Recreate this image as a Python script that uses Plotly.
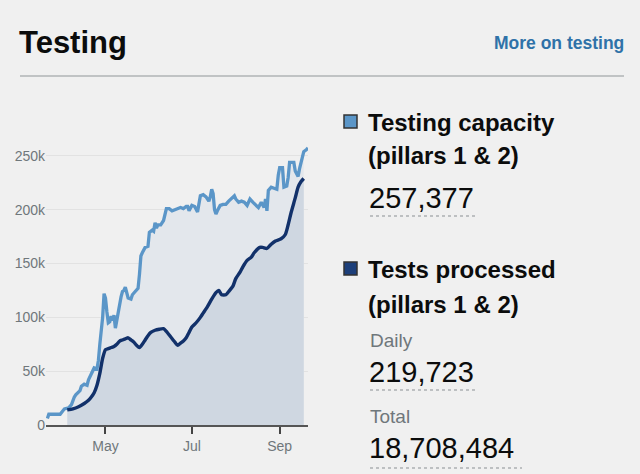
import plotly.graph_objects as go

# ---- data ----
cap_dates = ["2020-03-21","2020-03-22","2020-03-30","2020-03-31","2020-04-02","2020-04-05","2020-04-07",
             "2020-04-09","2020-04-10","2020-04-13","2020-04-14","2020-04-16","2020-04-18","2020-04-19",
             "2020-04-21","2020-04-23","2020-04-25","2020-04-26","2020-04-27","2020-04-28","2020-04-29",
             "2020-04-30","2020-05-01","2020-05-02","2020-05-03","2020-05-04","2020-05-05","2020-05-06",
             "2020-05-07","2020-05-08","2020-05-09","2020-05-10","2020-05-11","2020-05-12","2020-05-13",
             "2020-05-14","2020-05-15","2020-05-16","2020-05-17","2020-05-19","2020-05-20","2020-05-22",
             "2020-05-24","2020-05-25","2020-05-26","2020-05-27","2020-05-29","2020-05-31","2020-06-01",
             "2020-06-03","2020-06-04","2020-06-05","2020-06-06","2020-06-07","2020-06-09","2020-06-11",
             "2020-06-13","2020-06-15","2020-06-17","2020-06-19","2020-06-21","2020-06-23","2020-06-25",
             "2020-06-27","2020-06-28","2020-06-29","2020-07-01","2020-07-03","2020-07-05","2020-07-06",
             "2020-07-07","2020-07-09","2020-07-11","2020-07-13","2020-07-14","2020-07-15","2020-07-16",
             "2020-07-17","2020-07-18","2020-07-19","2020-07-21","2020-07-23","2020-07-25","2020-07-27",
             "2020-07-29","2020-07-31","2020-08-01","2020-08-03","2020-08-05","2020-08-07","2020-08-09",
             "2020-08-11","2020-08-13","2020-08-15","2020-08-17","2020-08-19","2020-08-21","2020-08-22",
             "2020-08-23","2020-08-24","2020-08-26","2020-08-28","2020-08-30","2020-08-31","2020-09-01",
             "2020-09-03","2020-09-04","2020-09-06","2020-09-07","2020-09-08","2020-09-11","2020-09-12",
             "2020-09-14","2020-09-15","2020-09-17","2020-09-18","2020-09-20","2020-09-21"]
cap_values = [6000,10000,10000,12000,15000,16000,19000,
              26000,28000,32000,36000,38000,37000,42000,
              48000,53000,52000,60000,75000,86000,100000,
              122000,118000,105000,95000,96000,101000,97000,
              102000,90000,98000,107000,112000,119000,124000,
              125000,128000,121000,118000,117000,121000,124000,
              127000,140000,157000,160000,165000,166000,179000,
              181000,180000,188000,183000,186000,186000,190000,
              201000,201000,199000,200000,201000,202000,201000,
              203000,203000,199000,204000,203000,198000,206000,
              213000,214000,212000,208000,212000,219000,215000,
              200000,196000,199000,204000,205000,205000,208000,
              211000,213000,210000,207000,208000,207000,204000,
              210000,207000,204000,202000,207000,202000,210000,
              199000,218000,221000,220000,219000,232000,239000,
              239000,221000,222000,230000,244000,244000,236000,
              231000,238000,250000,254000,256000,257377]

proc_dates = ["2020-04-04","2020-04-08","2020-04-12","2020-04-16","2020-04-19","2020-04-21","2020-04-23",
              "2020-04-25","2020-04-27","2020-04-29","2020-05-01","2020-05-03","2020-05-05","2020-05-07",
              "2020-05-09","2020-05-11","2020-05-13","2020-05-15","2020-05-17","2020-05-19","2020-05-21",
              "2020-05-23","2020-05-25","2020-05-27","2020-05-29","2020-05-31","2020-06-02","2020-06-05",
              "2020-06-08","2020-06-11","2020-06-13","2020-06-16","2020-06-19","2020-06-21","2020-06-23",
              "2020-06-25","2020-06-27","2020-06-29","2020-07-01","2020-07-04","2020-07-07","2020-07-09",
              "2020-07-12","2020-07-15","2020-07-18","2020-07-20","2020-07-22","2020-07-25","2020-07-27",
              "2020-07-30","2020-08-01","2020-08-04","2020-08-06","2020-08-09","2020-08-12","2020-08-14",
              "2020-08-18","2020-08-20","2020-08-23","2020-08-26","2020-08-29","2020-09-02","2020-09-05",
              "2020-09-07","2020-09-09","2020-09-12","2020-09-14","2020-09-16","2020-09-18"]
proc_values = [14000,15000,17000,20000,23000,26000,30000,
               37000,48000,62000,70000,71000,72000,73000,
               75000,78000,79000,80000,81000,79000,77000,
               74000,72000,75000,79000,83000,86000,88000,
               89000,89500,87000,82000,77000,74000,76000,
               78000,81000,86000,91000,95000,100000,104000,
               110000,117000,123000,125000,121000,121000,124000,
               129000,136000,142000,147000,153000,156000,160000,
               165000,165000,164000,168000,171000,173000,177000,
               186000,197000,211000,221000,226000,229000]

y_tickvals = [0, 50000, 100000, 150000, 200000, 250000]
y_ticktext = ["0", "50k", "100k", "150k", "200k", "250k"]
x_tickvals = ["2020-05-01", "2020-07-01", "2020-09-01"]
x_ticktext = ["May", "Jul", "Sep"]

# ---- layout geometry ----
W, H = 640, 474
L, R, T, B = 46, 332, 143, 49
PW, PH = W - L - R, H - T - B

def px(x):
    return (x - L) / PW

def py(y):
    return (H - B - y) / PH

BG = "#f0f0f0"
FONT = "Liberation Sans"
CAP_COL = "#5b96c8"
PROC_COL = "#12316a"

# light shading under capacity, only over the span where tests processed exist
p_start, p_end = proc_dates[0], proc_dates[-1]
shade_x = [d for d in cap_dates if p_start <= d <= p_end]
shade_y = [v for d, v in zip(cap_dates, cap_values) if p_start <= d <= p_end]

fig = go.Figure()
fig.add_trace(go.Scatter(x=shade_x, y=shade_y, mode="lines", line=dict(width=0, color=CAP_COL),
                         fill="tozeroy", fillcolor="#e3e7ec", hoverinfo="skip"))
fig.add_trace(go.Scatter(x=proc_dates, y=proc_values, mode="lines",
                         line=dict(width=0, color=PROC_COL, shape="spline", smoothing=0.6),
                         fill="tozeroy", fillcolor="#cfd7e1", hoverinfo="skip"))
fig.add_trace(go.Scatter(x=cap_dates, y=cap_values, mode="lines",
                         line=dict(color=CAP_COL, width=3.3), hoverinfo="skip"))
fig.add_trace(go.Scatter(x=proc_dates, y=proc_values, mode="lines",
                         line=dict(color=PROC_COL, width=3.4, shape="spline", smoothing=0.6),
                         hoverinfo="skip"))

fig.update_xaxes(type="date", range=["2020-03-20", "2020-09-21"],
                 tickvals=x_tickvals, ticktext=x_ticktext,
                 ticks="outside", ticklen=7, tickwidth=2, tickcolor="#444",
                 showline=True, linecolor="#555", linewidth=2,
                 showgrid=False, zeroline=False,
                 tickfont=dict(family=FONT, size=14, color="#6f777b"))
fig.update_yaxes(range=[0, 262000], tickvals=y_tickvals, ticktext=y_ticktext,
                 showgrid=True, gridcolor="#e2e2e2", gridwidth=1, zeroline=False,
                 ticks="", showline=False,
                 tickfont=dict(family=FONT, size=14, color="#6f777b"))

ann = []
def text(x, y, s, size, color="#0b0c0c", bold=False, xanchor="left"):
    ann.append(dict(x=px(x), y=py(y), xref="paper", yref="paper", showarrow=False,
                    xanchor=xanchor, yanchor="middle",
                    text=("<b>%s</b>" % s) if bold else s,
                    font=dict(family=FONT, size=size, color=color)))

text(17, 43, "Testing", 31, bold=True)
text(626, 43, "More on testing", 17.5, color="#2f72a8", bold=True, xanchor="right")
text(366, 123, "Testing capacity", 24, bold=True)
text(366, 155, "(pillars 1 &amp; 2)", 24, bold=True)
text(367, 198, "257,377", 29)
text(366, 269, "Tests processed", 24, bold=True)
text(366, 304, "(pillars 1 &amp; 2)", 24, bold=True)
text(368, 340, "Daily", 19, color="#6f777b")
text(367, 372, "219,723", 29)
text(368, 416, "Total", 19, color="#6f777b")
text(367, 448, "18,708,484", 29)

shapes = []
def line(x0, y0, x1, y1, color, width, dash="solid"):
    shapes.append(dict(type="line", xref="paper", yref="paper",
                       x0=px(x0), y0=py(y0), x1=px(x1), y1=py(y1),
                       line=dict(color=color, width=width, dash=dash)))

def rect(x0, y0, x1, y1, fill):
    shapes.append(dict(type="rect", xref="paper", yref="paper",
                       x0=px(x0), y0=py(y0), x1=px(x1), y1=py(y1),
                       fillcolor=fill, line=dict(color="#333", width=1.5)))

line(20, 76, 624, 76, "#b1b4b6", 1.5)
rect(344, 115, 357, 128, CAP_COL)
rect(344, 262, 357, 275, "#1d3f7a")
line(370, 216, 475, 216, "#8a8f93", 1, "dot")
line(370, 390, 475, 390, "#8a8f93", 1, "dot")
line(370, 468, 522, 468, "#8a8f93", 1, "dot")

fig.update_layout(width=W, height=H, margin=dict(l=L, r=R, t=T, b=B, autoexpand=False),
                  paper_bgcolor=BG, plot_bgcolor=BG, showlegend=False,
                  annotations=ann, shapes=shapes)

fig.write_html("out.html")
